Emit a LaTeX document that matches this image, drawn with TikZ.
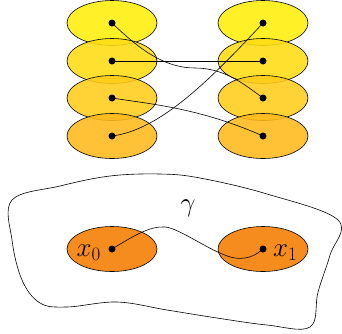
\RequirePackage{fix-cm}
\documentclass[tikz,border=0pt]{standalone}
\usetikzlibrary{shapes.geometric}
\begin{document}
\begin{tikzpicture}[x=1pt,y=-1pt,
  blob/.style={ellipse,draw=black,line width=0.6pt,minimum width=90pt,minimum height=45pt,inner sep=0pt,fill opacity=0.88,text opacity=1},
  dot/.style={circle,fill=black,inner sep=0pt,minimum size=7pt},
  link/.style={line width=0.6pt},
  lbl/.style={font=\fontsize{27}{31}\selectfont,inner sep=0pt}]
\definecolor{cA}{RGB}{255,238,10}
\definecolor{cB}{RGB}{255,220,18}
\definecolor{cC}{RGB}{255,204,26}
\definecolor{cD}{RGB}{255,185,26}
\definecolor{cE}{RGB}{246,140,30}
\useasboundingbox (0,0) rectangle (342,333);
\foreach \i/\y/\c in {1/23/cA,2/61/cB,3/98/cC,4/136/cD}{
  \node[blob,fill=\c] (L\i) at (112,\y) {};
  \node[blob,fill=\c] (R\i) at (263,\y) {};
}
\foreach \i in {1,2,3,4}{
  \node[dot] (l\i) at (L\i.center) {};
  \node[dot] (r\i) at (R\i.center) {};
}
\draw[link] (l1.center) .. controls (140,50) and (165,68) .. (195,68) .. controls (225,68) and (245,85) .. (r3.center);
\draw[link] (l2.center) -- (r2.center);
\draw[link] (l3.center) .. controls (150,104) and (200,108) .. (r4.center);
\draw[link] (l4.center) .. controls (160,130) and (210,80) .. (r1.center);
% bottom
\draw[line width=0.6pt] plot[smooth cycle,tension=0.6] coordinates {(12,200) (60,186) (110,176) (160,174) (200,178) (267,194) (338,220) (330,255) (318,292) (310,327) (267,325) (217,318) (167,310) (117,302) (67,307) (40,303) (22,280) (12,240)};
\node[lbl] (g) at (188,208) {$\gamma$};
\node[blob,fill=cE,fill opacity=1] (X0) at (112,249) {};
\node[blob,fill=cE,fill opacity=1] (X1) at (263,249) {};
\node[dot] (x0) at (X0.center) {};
\node[dot] (x1) at (X1.center) {};
\node[lbl,anchor=base east] (t0) at (101,256) {$x_0$};
\node[lbl,anchor=base west] (t1) at (273,256) {$x_1$};
\draw[link] (x0.center) .. controls (135,235) and (150,226) .. (165,227) .. controls (180,228) and (215,255) .. (235,258) .. controls (250,260) and (258,253) .. (x1.center);
\end{tikzpicture}
\end{document}
